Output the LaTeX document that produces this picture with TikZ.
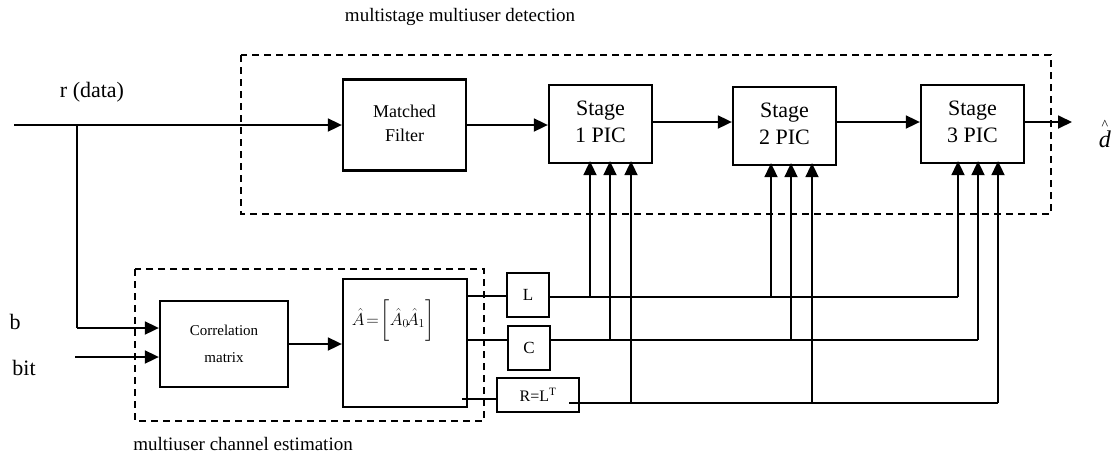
\documentclass[tikz,border=0pt]{standalone}
\usepackage{fontspec}
\setmainfont{Liberation Serif}
\usepackage{amsmath}
\usetikzlibrary{arrows.meta}
\newcommand{\liftrows}[2]{\raisebox{#1}{\begin{tabular}{@{}c@{}}#2\end{tabular}}}

\begin{document}
\begin{tikzpicture}[x=1pt, y=-1pt,
  blk/.style={draw, line width=2.3pt, inner sep=0pt, align=center},
  stage/.style={blk, minimum width=103, minimum height=78, font=\fontsize{22}{27}\selectfont},
  sig/.style={line width=1.8pt, -{Triangle[length=14pt,width=13pt]}},
  wire/.style={line width=1.8pt},
  dashbox/.style={line width=1.8pt, dash pattern=on 7pt off 5pt},
  lbl/.style={inner sep=0.75pt, font=\fontsize{19}{22}\selectfont}]
\useasboundingbox (0,0) rectangle (1114,464);
% dashed groups
\draw[dashbox] (241,55) rectangle (1051,214);
\draw[dashbox] (135,269) rectangle (484,421);
% detection blocks
\node[blk, minimum width=123, minimum height=91, font=\fontsize{18}{24}\selectfont] (mf) at (404.5,125) {\liftrows{7pt}{Matched\\Filter}};
\foreach \n/\cx/\cy/\k in {st1/600.5/124/1, st2/784.5/126/2, st3/972.5/124/3}
  \node[stage] (\n) at (\cx,\cy) {\liftrows{6pt}{Stage\\\k{} PIC}};
% estimation blocks
\node[blk, minimum width=128, minimum height=86, font=\fontsize{15}{27}\selectfont] (corr) at (224,344) {\liftrows{9pt}{Correlation\\matrix}};
\node[blk, minimum width=124, minimum height=128] (abox) at (405,343) {};
\node[inner sep=0pt, font=\fontsize{18}{20}\selectfont] (aeq) at (393,320) {$\hat{A}\!=\!\left[\hat{A}_{0}\!\hat{A}_{1}\rule[-17pt]{0pt}{44pt}\right]$};
\node[blk, minimum width=42, minimum height=44, font=\fontsize{17}{18}\selectfont] (lbox) at (528,295) {L};
\node[blk, minimum width=42, minimum height=44, font=\fontsize{17}{18}\selectfont] (cbox) at (529,348) {C};
\node[blk, minimum width=82, minimum height=34, font=\fontsize{16}{18}\selectfont] (rbox) at (538,395) {R=L\textsuperscript{T}};
%Text
\node[lbl] (ttop) at (460,17) {multistage multiuser detection};
\node[lbl] (tbot) at (243,444) {multiuser channel estimation};
\node[lbl, font=\fontsize{22}{24}\selectfont] (rlbl) at (92,92) {r (data)};
\node[lbl, font=\fontsize{22}{24}\selectfont] (blbl) at (15,322) {b};
\node[lbl, font=\fontsize{22}{24}\selectfont] (bitlbl) at (24,368) {bit};
\node[inner sep=0pt, font=\fontsize{24}{24}\selectfont] (dhat) at (1105,134) {\shortstack{{\fontsize{14}{14}\selectfont\^{}}\\[-2pt]\textit{d}}};
% signal path
\coordinate (rin) at (14,125);
\coordinate (tap) at (77,125);
\coordinate (bin) at (75,357);
\coordinate (dout) at (1072,122);
\draw[sig] (rin) -- (mf.west |- rin);
\draw[wire] (tap) -- (77,328);
\draw[sig] (77,328) -- (corr.west |- 0,328);
\draw[sig] (bin) -- (corr.west |- bin);
\draw[sig] (corr.east) -- (abox.west |- corr.east);
\draw[sig] (mf.east) -- (st1.west |- mf.east);
\draw[sig] (st1.east |- 0,122) -- (st2.west |- 0,122);
\draw[sig] (st2.east |- 0,122) -- (st3.west |- 0,122);
\draw[sig] (st3.east |- dout) -- (dout);
% estimates out
\draw[wire] (abox.east |- 0,296) -- (lbox.west |- 0,296);
\draw[wire] (abox.east |- 0,340) -- (cbox.west |- 0,340);
\draw[wire] (462,399) -- (rbox.west |- 0,399);
\draw[wire] (lbox.east |- 0,297) -- (958,297);
\draw[wire] (cbox.east |- 0,340) -- (978,340);
\draw[wire] (569,403) -- (998,403);
% feeds into each stage
\foreach \n/\xa/\xb/\xc in {st1/590/610/631, st2/771/791/812, st3/958/978/998}{
  \draw[sig] (\xa,297) -- ([yshift=3]\n.south -| \xa,0);
  \draw[sig] (\xb,340) -- ([yshift=3]\n.south -| \xb,0);
  \draw[sig] (\xc,403) -- ([yshift=3]\n.south -| \xc,0);
}
\end{tikzpicture}
\end{document}
